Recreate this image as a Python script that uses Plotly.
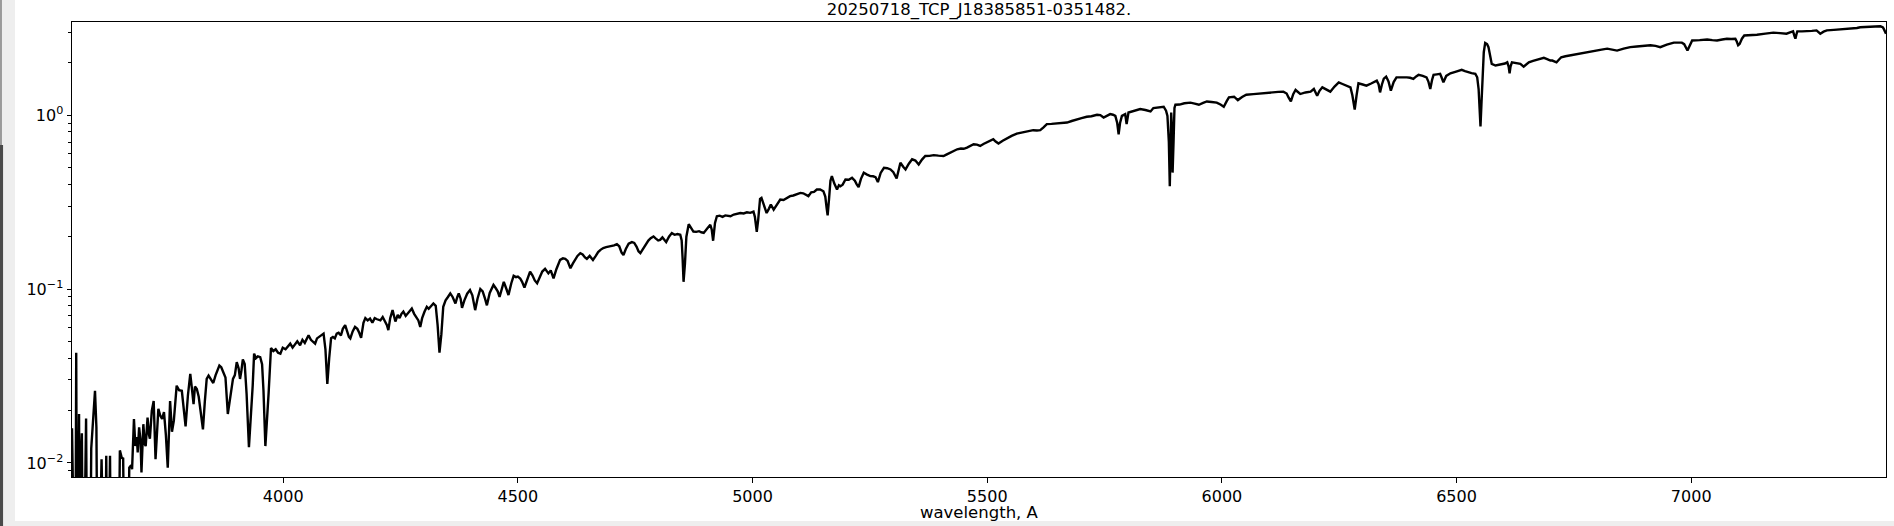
import plotly.graph_objects as go

# Wavelength (Angstrom) and flux values
wavelength = [
    3550, 3553, 3557, 3559, 3561, 3565, 3567, 3570, 3571, 3574, 3580, 3583, 3588, 3591, 3599, 3602, 3605,
    3613, 3616, 3620, 3623, 3626, 3631, 3634, 3648, 3652, 3656, 3659, 3663, 3668, 3672, 3676, 3678,
    3682, 3685, 3688, 3690, 3693, 3696, 3698, 3702, 3705, 3707, 3711, 3714, 3716, 3720, 3724, 3728,
    3734, 3738, 3742, 3746, 3750, 3754, 3759, 3763, 3767, 3773, 3778, 3784, 3788, 3792, 3797, 3802,
    3806, 3809, 3812, 3816, 3820, 3825, 3829, 3833, 3837, 3841, 3846, 3851, 3856, 3860, 3864, 3868,
    3873, 3877, 3882, 3887, 3893, 3897, 3901, 3905, 3908, 3911, 3914, 3918, 3922, 3927, 3931, 3935,
    3938, 3942, 3946, 3951, 3955, 3958, 3962, 3966, 3969, 3974, 3979, 3984, 3989, 3994, 3999, 4005,
    4010, 4015, 4020, 4025, 4030, 4036, 4041, 4046, 4050, 4054, 4059, 4063, 4068, 4072, 4077, 4082,
    4086, 4090, 4094, 4098, 4102, 4106, 4110, 4114, 4118, 4123, 4127, 4132, 4136, 4140, 4143, 4148,
    4153, 4158, 4162, 4166, 4171, 4175, 4180, 4185, 4190, 4195, 4200, 4207, 4212, 4217, 4221, 4224,
    4228, 4233, 4236, 4239, 4244, 4248, 4252, 4256, 4261, 4266, 4270, 4274, 4279, 4284, 4288, 4292,
    4296, 4301, 4306, 4310, 4315, 4320, 4325, 4329, 4333, 4337, 4341, 4346, 4351, 4356, 4361, 4367,
    4371, 4374, 4378, 4381, 4386, 4392, 4398, 4403, 4409, 4414, 4420, 4425, 4430, 4434, 4440, 4444,
    4448, 4453, 4457, 4461, 4466, 4470, 4475, 4480, 4486, 4491, 4496, 4500, 4505, 4509, 4514, 4520,
    4526, 4531, 4536, 4541, 4546, 4552, 4558, 4562, 4565, 4570, 4576, 4582, 4586, 4590, 4596, 4601,
    4606, 4612, 4617, 4622, 4627, 4633, 4638, 4643, 4647, 4653, 4660, 4666, 4671, 4676, 4682, 4688,
    4694, 4700, 4705, 4711, 4716, 4721, 4725, 4730, 4736, 4743, 4748, 4753, 4757, 4761, 4766, 4772,
    4778, 4783, 4789, 4794, 4799, 4803, 4808, 4812, 4816, 4822, 4828, 4834, 4840, 4846, 4849, 4851,
    4853, 4856, 4859, 4864, 4869, 4874, 4880, 4886, 4891, 4896, 4903, 4910, 4913, 4916, 4920, 4924,
    4930, 4936, 4942, 4948, 4953, 4960, 4967, 4974, 4981, 4988, 4995, 5002, 5005, 5009, 5012, 5016,
    5019, 5024, 5030, 5035, 5039, 5045, 5052, 5059, 5066, 5073, 5080, 5087, 5094, 5102, 5108, 5114,
    5119, 5125, 5131, 5137, 5144, 5151, 5155, 5158, 5160, 5163, 5166, 5169, 5174, 5180, 5184, 5187,
    5192, 5198, 5205, 5212, 5218, 5222, 5226, 5231, 5237, 5244, 5251, 5257, 5262, 5267, 5273, 5280,
    5287, 5294, 5300, 5307, 5311, 5315, 5321, 5326, 5333, 5340, 5347, 5354, 5361, 5368, 5377, 5386,
    5396, 5407, 5414, 5421, 5428, 5436, 5444, 5450, 5457, 5464, 5471, 5478, 5485, 5492, 5499, 5506,
    5513, 5518, 5524, 5533, 5542, 5552, 5563, 5573, 5584, 5591, 5598, 5606, 5613, 5620, 5627, 5637,
    5648, 5659, 5670, 5680, 5691, 5701, 5712, 5722, 5734, 5741, 5748, 5755, 5762, 5768, 5773, 5777,
    5780, 5783, 5787, 5794, 5797, 5801, 5810, 5818, 5826, 5837, 5848, 5854, 5865, 5876, 5881, 5884,
    5887, 5889, 5891, 5892, 5894, 5895, 5897, 5899, 5901, 5910, 5920, 5933, 5942, 5951, 5960, 5968,
    5978, 5989, 5997, 6004, 6010, 6015, 6026, 6034, 6043, 6052, 6067, 6082, 6096, 6110, 6120, 6131,
    6138, 6142, 6147, 6152, 6157, 6167, 6178, 6189, 6196, 6203, 6208, 6214, 6222, 6231, 6240, 6249,
    6257, 6266, 6274, 6278, 6283, 6287, 6291, 6300, 6308, 6318, 6326, 6330, 6334, 6337, 6341, 6345,
    6350, 6355, 6360, 6366, 6372, 6383, 6394, 6401, 6408, 6414, 6419, 6428, 6436, 6440, 6444, 6448,
    6451, 6458, 6465, 6468, 6472, 6478, 6487, 6499, 6511, 6518, 6525, 6532, 6540, 6544, 6547, 6549,
    6551, 6553, 6556, 6558, 6561, 6565, 6568, 6571, 6575, 6583, 6590, 6597, 6603, 6608, 6611, 6613,
    6615, 6618, 6627, 6636, 6643, 6648, 6654, 6663, 6672, 6680, 6686, 6693, 6700, 6704, 6709, 6713,
    6718, 6723, 6732, 6741, 6750, 6762, 6774, 6785, 6797, 6809, 6821, 6831, 6842, 6856, 6870, 6884,
    6899, 6913, 6924, 6934, 6948, 6963, 6972, 6980, 6985, 6989, 6992, 6995, 7002, 7018, 7034, 7045,
    7055, 7066, 7076, 7085, 7094, 7097, 7100, 7103, 7108, 7113, 7127, 7140, 7158, 7175, 7189, 7203,
    7212, 7217, 7220, 7222, 7224, 7226, 7236, 7246, 7257, 7267, 7271, 7275, 7282, 7289, 7304, 7318,
    7332, 7346, 7353, 7360, 7371, 7382, 7392, 7403, 7408, 7410, 7415,
]

flux = [
    0.0158, 0.001, 0.001, 0.043, 0.001, 0.0191, 0.001, 0.0125, 0.0148, 0.001, 0.018, 0.001, 0.001, 0.0121, 0.026, 0.016, 0.001,
    0.0105, 0.001, 0.001, 0.011, 0.001, 0.011, 0.001, 0.001, 0.0118, 0.0107, 0.0106, 0.001, 0.001, 0.0094, 0.0097, 0.0092,
    0.0179, 0.0125, 0.0141, 0.0115, 0.016, 0.0135, 0.0088, 0.0167, 0.0128, 0.0125, 0.0182, 0.0145, 0.0138, 0.0199, 0.0227, 0.0105,
    0.0205, 0.0187, 0.0179, 0.0196, 0.0145, 0.0094, 0.0227, 0.0151, 0.0175, 0.0278, 0.0262, 0.026, 0.021, 0.0162, 0.0245, 0.0325,
    0.026, 0.0218, 0.0275, 0.0266, 0.024, 0.0185, 0.0156, 0.0225, 0.0304, 0.0318, 0.030, 0.0288, 0.032, 0.034, 0.0363, 0.0355,
    0.033, 0.031, 0.0191, 0.024, 0.0304, 0.032, 0.038, 0.035, 0.0304, 0.034, 0.0394, 0.037, 0.025, 0.0123, 0.018, 0.0278,
    0.0425, 0.040, 0.041, 0.0406, 0.037, 0.026, 0.0125, 0.018, 0.0254, 0.0458, 0.044, 0.045, 0.043, 0.0425, 0.046, 0.045,
    0.047, 0.0485, 0.046, 0.048, 0.050, 0.0475, 0.051, 0.049, 0.052, 0.0542, 0.051, 0.050, 0.0485, 0.052, 0.053, 0.054,
    0.0554, 0.045, 0.0285, 0.040, 0.0521, 0.053, 0.052, 0.0554, 0.056, 0.054, 0.059, 0.0619, 0.058, 0.053, 0.052, 0.057,
    0.0605, 0.059, 0.056, 0.0524, 0.064, 0.068, 0.066, 0.0676, 0.064, 0.068, 0.067, 0.066, 0.069, 0.065, 0.062, 0.058,
    0.068, 0.0756, 0.070, 0.065, 0.071, 0.068, 0.072, 0.0741, 0.070, 0.073, 0.076, 0.0773, 0.072, 0.068, 0.066, 0.0605,
    0.068, 0.074, 0.079, 0.077, 0.080, 0.0826, 0.080, 0.062, 0.043, 0.055, 0.079, 0.086, 0.090, 0.0944, 0.090, 0.0826,
    0.090, 0.0944, 0.088, 0.078, 0.086, 0.094, 0.0986, 0.092, 0.0756, 0.088, 0.100, 0.097, 0.088, 0.0806, 0.095, 0.100,
    0.1055, 0.101, 0.097, 0.090, 0.102, 0.110, 0.101, 0.0924, 0.108, 0.119, 0.117, 0.118, 0.115, 0.110, 0.102, 0.115,
    0.126, 0.120, 0.112, 0.108, 0.117, 0.126, 0.1305, 0.126, 0.123, 0.128, 0.115, 0.130, 0.140, 0.147, 0.150, 0.149,
    0.145, 0.1315, 0.140, 0.147, 0.155, 0.1606, 0.158, 0.152, 0.149, 0.155, 0.147, 0.155, 0.163, 0.168, 0.172, 0.174,
    0.175, 0.176, 0.178, 0.181, 0.176, 0.162, 0.157, 0.170, 0.182, 0.186, 0.184, 0.175, 0.165, 0.161, 0.170, 0.180,
    0.190, 0.196, 0.2006, 0.195, 0.190, 0.1915, 0.198, 0.192, 0.186, 0.200, 0.2096, 0.205, 0.207, 0.205, 0.190, 0.150,
    0.110, 0.140, 0.200, 0.236, 0.225, 0.214, 0.213, 0.215, 0.212, 0.210, 0.222, 0.234, 0.220, 0.1895, 0.240, 0.262,
    0.264, 0.260, 0.265, 0.262, 0.262, 0.268, 0.270, 0.2735, 0.272, 0.276, 0.274, 0.279, 0.260, 0.213, 0.250, 0.330,
    0.334, 0.305, 0.2735, 0.290, 0.306, 0.286, 0.305, 0.327, 0.325, 0.335, 0.342, 0.345, 0.350, 0.357, 0.355, 0.348,
    0.342, 0.360, 0.362, 0.3735, 0.374, 0.365, 0.340, 0.290, 0.265, 0.330, 0.420, 0.446, 0.405, 0.3735, 0.395, 0.390,
    0.398, 0.4266, 0.425, 0.436, 0.420, 0.400, 0.385, 0.430, 0.466, 0.455, 0.446, 0.445, 0.440, 0.412, 0.465, 0.498,
    0.495, 0.487, 0.470, 0.432, 0.490, 0.532, 0.505, 0.487, 0.525, 0.557, 0.548, 0.520, 0.555, 0.582, 0.583, 0.589,
    0.585, 0.582, 0.595, 0.608, 0.620, 0.636, 0.642, 0.640, 0.650, 0.665, 0.680, 0.676, 0.665, 0.682, 0.694, 0.706,
    0.726, 0.705, 0.686, 0.712, 0.736, 0.760, 0.783, 0.795, 0.804, 0.812, 0.819, 0.815, 0.819, 0.850, 0.887, 0.890,
    0.894, 0.900, 0.906, 0.925, 0.948, 0.960, 0.978, 0.985, 1.004, 1.000, 0.969, 0.995, 1.013, 1.005, 0.990, 0.900,
    0.776, 0.900, 0.990, 1.013, 0.887, 1.035, 1.050, 1.070, 1.083, 1.070, 1.049, 1.098, 1.110, 1.117, 1.060, 0.990,
    0.700, 0.390, 0.700, 1.035, 0.800, 0.467, 0.700, 1.100, 1.147, 1.150, 1.170, 1.180, 1.165, 1.147, 1.175, 1.198,
    1.190, 1.180, 1.150, 1.117, 1.200, 1.264, 1.276, 1.220, 1.270, 1.310, 1.320, 1.333, 1.350, 1.364, 1.360, 1.364,
    1.330, 1.264, 1.198, 1.320, 1.395, 1.322, 1.350, 1.364, 1.413, 1.293, 1.380, 1.444, 1.410, 1.364, 1.460, 1.543,
    1.510, 1.477, 1.444, 1.300, 1.077, 1.300, 1.523, 1.500, 1.477, 1.520, 1.570, 1.579, 1.500, 1.351, 1.500, 1.620,
    1.665, 1.560, 1.382, 1.550, 1.649, 1.655, 1.649, 1.640, 1.615, 1.670, 1.703, 1.680, 1.649, 1.560, 1.413, 1.600,
    1.703, 1.715, 1.726, 1.650, 1.543, 1.680, 1.739, 1.780, 1.820, 1.790, 1.763, 1.745, 1.726, 1.650, 1.413, 1.100,
    0.860, 1.150, 1.726, 2.300, 2.600, 2.560, 2.460, 2.200, 1.970, 1.928, 1.940, 1.952, 1.980, 2.012, 1.900, 1.739,
    1.900, 2.012, 2.000, 1.970, 1.900, 1.960, 2.012, 2.050, 2.090, 2.120, 2.135, 2.100, 2.060, 2.060, 2.030, 2.012,
    2.080, 2.150, 2.180, 2.200, 2.220, 2.250, 2.290, 2.320, 2.350, 2.380, 2.410, 2.390, 2.350, 2.410, 2.460, 2.480,
    2.500, 2.520, 2.500, 2.460, 2.540, 2.610, 2.610, 2.610, 2.560, 2.450, 2.350, 2.450, 2.687, 2.700, 2.720, 2.700,
    2.687, 2.720, 2.750, 2.740, 2.750, 2.650, 2.520, 2.560, 2.750, 2.870, 2.880, 2.900, 2.940, 2.980, 2.960, 2.940,
    3.000, 3.030, 2.850, 2.750, 2.900, 3.030, 3.030, 3.030, 3.050, 3.070, 3.000, 2.940, 3.020, 3.070, 3.090, 3.110,
    3.120, 3.140, 3.170, 3.200, 3.220, 3.240, 3.230, 3.240, 3.200, 3.140, 2.940,
]

title_text = "20250718_TCP_J18385851-0351482."
x_label = "wavelength, A"
x_ticks = [4000, 4500, 5000, 5500, 6000, 6500, 7000]
y_ticks = [0.01, 0.1, 1]
y_ticktext = ["10<sup>\u22122</sup>", "10<sup>\u22121</sup>", "10<sup>0</sup>"]
y_minor = [0.009, 0.02, 0.03, 0.04, 0.05, 0.06, 0.07, 0.08, 0.09,
           0.2, 0.3, 0.4, 0.5, 0.6, 0.7, 0.8, 0.9, 2, 3]

FONT = "DejaVu Sans"

fig = go.Figure()
fig.add_trace(go.Scatter(
    x=wavelength, y=flux, mode="lines",
    line=dict(color="black", width=2.4),
    showlegend=False, hoverinfo="x+y",
))

fig.update_layout(
    width=1894, height=526,
    margin=dict(l=72, r=8, t=22, b=49, autoexpand=False),
    paper_bgcolor="white", plot_bgcolor="white",
    font=dict(family=FONT, color="black", size=16),
    title=dict(text=title_text, x=0.5, xref="paper", xanchor="center",
               y=1 - 9.5 / 526, yref="container", yanchor="middle",
               font=dict(family=FONT, size=16.5, color="black")),
    annotations=[
        dict(text=x_label, xref="paper", yref="paper", x=0.5, y=-0.077,
             xanchor="center", yanchor="middle", showarrow=False,
             font=dict(family=FONT, size=16.5, color="black")),
    ],
    shapes=[
        dict(type="rect", xref="paper", yref="paper", x0=-0.0397, x1=-0.0314, y0=-0.108, y1=1.05,
             fillcolor="#eeeeee", line=dict(width=0), layer="above"),
        dict(type="rect", xref="paper", yref="paper", x0=-0.0397, x1=1.005, y0=-0.108, y1=-0.0967,
             fillcolor="#eeeeee", line=dict(width=0), layer="above"),
        dict(type="rect", xref="paper", yref="paper", x0=-0.0397, x1=-0.0386, y0=0.7297, y1=1.05,
             fillcolor="#9a9a9a", line=dict(width=0), layer="above"),
        dict(type="rect", xref="paper", yref="paper", x0=-0.0397, x1=-0.0380, y0=-0.108, y1=0.7297,
             fillcolor="#4a4a4a", line=dict(width=0), layer="above"),
    ],
)

fig.update_xaxes(
    range=[3550, 7415], tickvals=x_ticks, automargin=False,
    showline=True, linecolor="black", linewidth=1, mirror=True,
    ticks="outside", ticklen=4.5, tickwidth=1, tickcolor="black",
    showgrid=False, zeroline=False,
    tickfont=dict(family=FONT, size=16, color="black"),
)
fig.update_yaxes(
    type="log", range=[-2.081, 0.5354], automargin=False,
    tickvals=y_ticks, ticktext=y_ticktext,
    showline=True, linecolor="black", linewidth=1, mirror=True,
    ticks="outside", ticklen=4.5, tickwidth=1, tickcolor="black",
    showgrid=False, zeroline=False,
    tickfont=dict(family=FONT, size=16, color="black"),
    minor=dict(tickvals=y_minor, ticks="outside", ticklen=2.7, tickwidth=0.8,
               tickcolor="black", showgrid=False),
)

fig.write_html(
    "out.html",
    config={"displayModeBar": False},
    post_script="document.body.style.margin='0';document.body.style.overflow='hidden';",
)
